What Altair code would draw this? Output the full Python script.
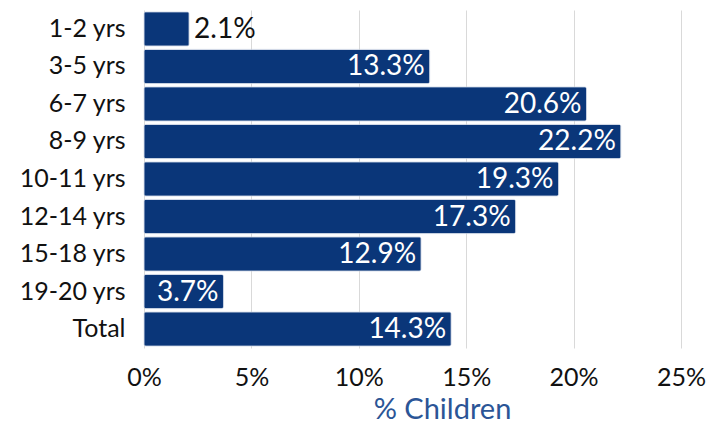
import altair as alt
import pandas as pd

categories = ["1-2 yrs", "3-5 yrs", "6-7 yrs", "8-9 yrs", "10-11 yrs",
              "12-14 yrs\u00a0\u00a0", "15-18 yrs", "19-20 yrs", "Total"]
values = [2.1, 13.3, 20.6, 22.2, 19.3, 17.3, 12.9, 3.7, 14.3]
label_text = ["2.1%", "13.3%", "20.6%", "22.2%", "19.3%", "17.3%", "12.9%", "3.7%", "14.3%"]
inside = [False, True, True, True, True, True, True, True, True]

df = pd.DataFrame({"cat": categories, "val": values, "lab": label_text, "inside": inside})

FONT = "Lato"
BAR = "#0a3679"

y_enc = alt.Y("cat:N", sort=categories, title=None,
              scale=alt.Scale(paddingInner=0.09, paddingOuter=0.05),
              axis=alt.Axis(ticks=False, domain=False, labelPadding=19,
                            labelFont=FONT, labelFontSize=25, labelColor="#111111"))
x_enc = alt.X("val:Q", title="% Children",
              scale=alt.Scale(domain=[0, 25], nice=False),
              axis=alt.Axis(values=[0, 5, 10, 15, 20, 25], labelExpr="datum.value + '%'",
                            ticks=False, domain=False, grid=True, gridColor="#d9d9d9",
                            labelFlush=False,
                            labelPadding=17, labelFont=FONT, labelFontSize=25,
                            labelColor="#111111", titleFont=FONT, titleFontSize=29,
                            titleFontWeight="normal", titleColor="#2b5596",
                            titlePadding=5, titleX=298))

bars = alt.Chart(df).mark_bar(color=BAR, cornerRadius=2, stroke="#c8d2e2",
                              strokeWidth=0.6).encode(x=x_enc, y=y_enc)

lab_in = alt.Chart(df).transform_filter("datum.inside").mark_text(
    align="right", baseline="middle", dx=-5, dy=1, font=FONT, fontSize=28,
    color="white").encode(x="val:Q", y=alt.Y("cat:N", sort=categories), text="lab:N")

lab_out = alt.Chart(df).transform_filter("!datum.inside").mark_text(
    align="left", baseline="middle", dx=5, dy=1, font=FONT, fontSize=28,
    color="#111111").encode(x="val:Q", y=alt.Y("cat:N", sort=categories), text="lab:N")

chart = alt.layer(bars, lab_in, lab_out).properties(
    width=537, height=338,
    title=alt.TitleParams("by Age, 2018", font=FONT, fontSize=40, fontWeight="bold",
                          color="#0d3b85", anchor="middle", baseline="alphabetic",
                          offset=-9),
    autosize=alt.AutoSizeParams(type="none"),
    padding={"left": 136, "top": 2, "right": 30, "bottom": 90},
).configure_view(stroke=None)

chart.save("out.html", embed_options={"renderer": "svg", "actions": False})
